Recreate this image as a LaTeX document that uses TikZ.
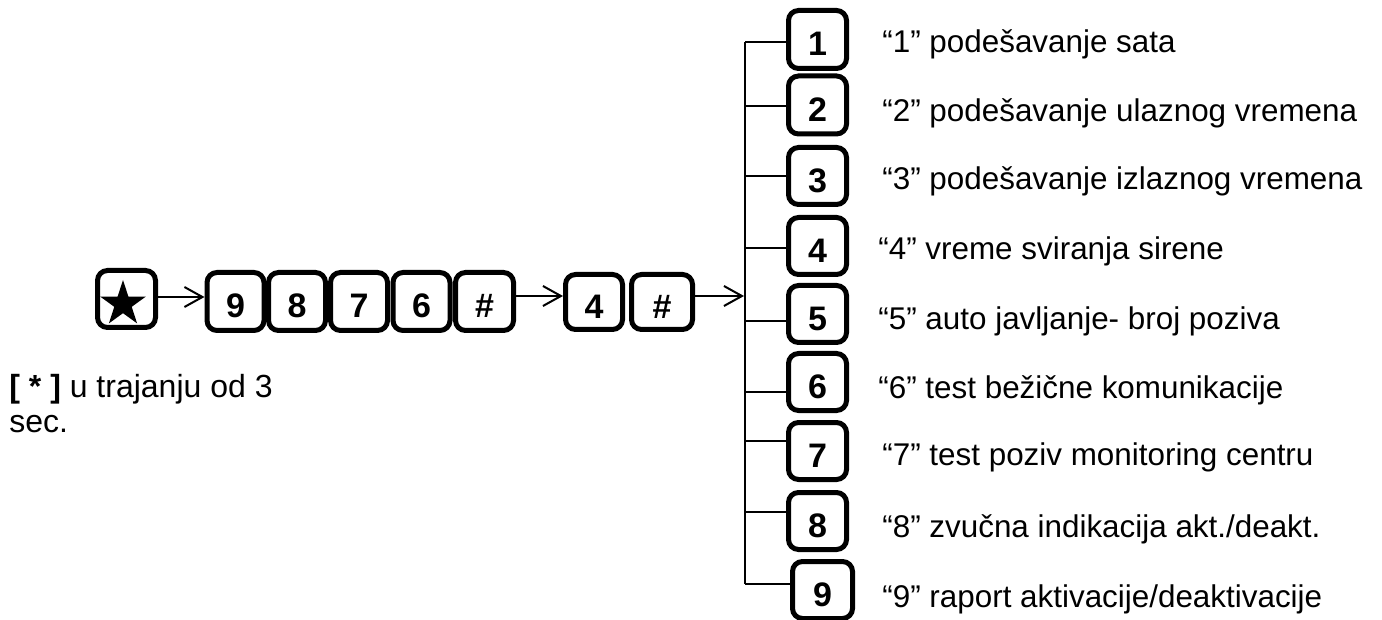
\documentclass[tikz,border=0pt]{standalone}
\usepackage{fontspec}
\setmainfont{Liberation Sans}
\usetikzlibrary{arrows.meta,shapes.geometric}
\tikzset{
  keybox/.style={draw, line width=2.5pt, rounded corners=5pt, inner sep=0pt,
    font=\fontsize{17}{20}\selectfont\bfseries, text height=16.2pt, text depth=0pt},
  conn/.style={line width=1pt},
  arr/.style={line width=1pt, -{Straight Barb[length=9pt,width=10pt,line width=1pt]}},
  txt/.style={anchor=base west, inner sep=0pt, font=\fontsize{15.7}{18}\selectfont},
}
\begin{document}
\begin{tikzpicture}[x=0.5pt,y=-0.5pt]
\useasboundingbox (0,0) rectangle (1382,620);
\clip (0,0) rectangle (1382,620);
% first row
\node[keybox, minimum width=29pt, minimum height=28.5pt] (sk) at (126.5,299) {};
\node[star, star points=5, star point ratio=2.618, fill=black, draw=none, minimum size=24pt, inner sep=0pt] (st) at (123,304) {};
\node[keybox, minimum width=28.5pt, minimum height=29pt] (r9) at (235.5,301.5) {9};
\node[keybox, minimum width=28.5pt, minimum height=29pt] (r8) at (297,301.5) {8};
\node[keybox, minimum width=28.5pt, minimum height=29pt] (r7) at (359,301.5) {7};
\node[keybox, minimum width=28.5pt, minimum height=29pt] (r6) at (421.5,301.5) {6};
\node[keybox, minimum width=29pt, minimum height=29pt] (rh) at (484.5,301.5) {\#};
\node[keybox, minimum width=28.5pt, minimum height=27.5pt] (r4) at (594,302) {4};
\node[keybox, minimum width=30.5pt, minimum height=27.5pt] (rh2) at (662,302) {\#};
\draw[arr] (sk.east |- 0,297) -- (r9.west |- 0,297);
\draw[arr] (rh.east |- 0,296) -- (r4.west |- 0,296);
\coordinate (tin) at (744,296);
\draw[arr] (rh2.east |- tin) -- (tin);
% column
\node[keybox, minimum width=29pt, minimum height=29pt] (c1) at (817.5,39.5) {1};
\node[keybox, minimum width=29pt, minimum height=29pt] (c2) at (817.5,105) {2};
\node[keybox, minimum width=29pt, minimum height=28.5pt] (c3) at (817.5,176) {3};
\node[keybox, minimum width=29pt, minimum height=28.5pt] (c4) at (817.5,246) {4};
\node[keybox, minimum width=29pt, minimum height=28.5pt] (c5) at (817.5,314) {5};
\node[keybox, minimum width=29pt, minimum height=28.5pt] (c6) at (817.5,382) {6};
\node[keybox, minimum width=29pt, minimum height=28.5pt] (c7) at (817.5,451) {7};
\node[keybox, minimum width=29pt, minimum height=28.5pt] (c8) at (817.5,521) {8};
\node[keybox, minimum width=30pt, minimum height=28.5pt] (c9) at (822.5,590) {9};
% trunk and branches
\coordinate (b1) at (745,42);
\coordinate (b2) at (745,106);
\coordinate (b3) at (745,176);
\coordinate (b4) at (745,248);
\coordinate (b5) at (745,321);
\coordinate (b6) at (745,392);
\coordinate (b7) at (745,441);
\coordinate (b8) at (745,512);
\coordinate (b9) at (745,584);
\draw[conn] (b1) -- (b9);
\foreach \i in {1,...,9} { \draw[conn] (b\i) -- (b\i -| c\i.west); }
% texts
\node[txt] (t1) at (882,53) {“1” podešavanje sata};
\node[txt] (t2) at (882,122) {“2” podešavanje ulaznog vremena};
\node[txt] (t3) at (882,190) {“3” podešavanje izlaznog vremena};
\node[txt] (t4) at (878,260) {“4” vreme sviranja sirene};
\node[txt] (t5) at (878,329) {“5” auto javljanje- broj poziva};
\node[txt] (t6) at (878,398) {“6” test bežične komunikacije};
\node[txt] (t7) at (882,466) {“7” test poziv monitoring centru};
\node[txt] (t8) at (882,537) {“8” zvučna indikacija akt./deakt.};
\node[txt] (t9) at (882,607) {“9” raport aktivacije/deaktivacije};
\node[anchor=base west, align=left, inner sep=0pt, font=\fontsize{16}{17.5}\selectfont] (note) at (9,432) {\textbf{[ * ]} u trajanju od 3\\sec.};
\end{tikzpicture}
\end{document}
